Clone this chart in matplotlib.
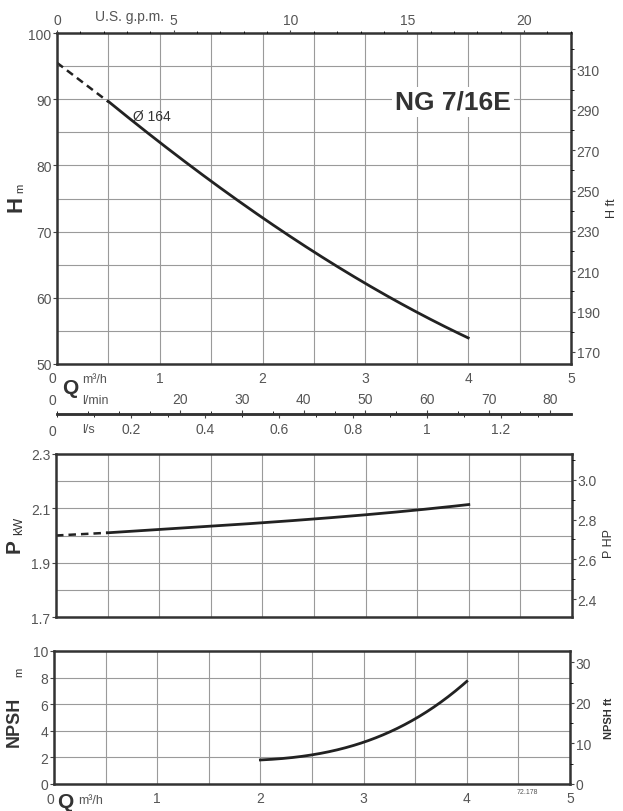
import matplotlib
matplotlib.use("Agg")
import matplotlib.pyplot as plt
import numpy as np
from matplotlib.ticker import MultipleLocator, FixedLocator

plt.rcParams['font.family'] = ['Liberation Sans', 'DejaVu Sans']

# ---- data ----
q_h_dash = [0.0, 0.5]
h_dash = [95.5, 89.6]
q_h = [0.5, 1.0, 1.5, 2.0, 2.5, 3.0, 3.5, 4.0]
h_m = [89.6, 83.6, 77.6, 72.0, 66.9, 62.2, 57.9, 53.9]

q_p_dash = [0.0, 0.5]
p_dash = [2.0, 2.01]
q_p = [0.5, 1.0, 1.5, 2.0, 2.5, 3.0, 3.5, 4.0]
p_kw = [2.010, 2.022, 2.034, 2.047, 2.061, 2.076, 2.094, 2.114]

q_n = [2.0, 2.25, 2.5, 2.75, 3.0, 3.25, 3.5, 3.75, 4.0]
npsh_m = [1.8, 1.95, 2.2, 2.6, 3.1, 3.9, 4.9, 6.2, 7.7]

q_ticks = [0, 1, 2, 3, 4, 5]
q_labels = ['', '1', '2', '3', '4', '5']
lmin_major = [20, 30, 40, 50, 60, 70, 80]
ls_major = [0.2, 0.4, 0.6, 0.8, 1.0, 1.2]
ls_labels = ['0.2', '0.4', '0.6', '0.8', '1', '1.2']

title = "NG 7/16E"
impeller = "Ø 164"

M_TO_FT = 3.2808
KW_TO_HP = 1.36
M3H_TO_GPM = 4.403
M3H_TO_LMIN = 16.667
M3H_TO_LS = 0.27778

TXT = '#555555'
DARK = '#333333'
LINE = '#222222'
GRID = '#9a9a9a'

W, H = 623, 812
fig = plt.figure(figsize=(W / 100, H / 100), dpi=100)


def fx(px):
    return px / W


def fy(py):
    return 1 - py / H


left = fx(57)
width = fx(571) - fx(57)


def style(ax):
    for s in ax.spines.values():
        s.set_linewidth(1.8)
        s.set_color(DARK)
    ax.tick_params(colors='#444444', labelcolor=TXT, labelsize=10, length=3, width=0.8)
    ax.grid(True, which='both', color=GRID, linewidth=0.8)
    ax.set_axisbelow(True)


def right_style(ax):
    ax.tick_params(colors='#444444', labelcolor=TXT, labelsize=10, length=3, width=0.8, pad=1)
    ax.tick_params(which='minor', length=2)
    for s in ax.spines.values():
        s.set_visible(False)


def curve(ax, x, y, **kw):
    xs = np.linspace(x[0], x[-1], 200)
    c = np.polyfit(x, y, 3)
    ax.plot(xs, np.polyval(c, xs), **kw)


# ---------- H chart ----------
ax1 = fig.add_axes([left, fy(365), width, fy(34) - fy(365)])
style(ax1)
ax1.set_xlim(0, 5)
ax1.set_ylim(50, 100)
ax1.xaxis.set_major_locator(FixedLocator(q_ticks))
ax1.xaxis.set_minor_locator(MultipleLocator(0.5))
ax1.set_xticklabels(q_labels)
ax1.yaxis.set_major_locator(MultipleLocator(10))
ax1.yaxis.set_minor_locator(MultipleLocator(5))
ax1.tick_params(axis='x', which='both', length=0, pad=5)
ax1.tick_params(axis='y', which='minor', length=0)
ax1.tick_params(axis='y', pad=1)
ax1.plot(q_h_dash, h_dash, color=LINE, lw=1.8, ls=(0, (3, 2)))
curve(ax1, q_h, h_m, color=LINE, lw=2.0)
ax1.text(0.74, 87.5, impeller, fontsize=10, color=DARK, va='center')
ax1.text(3.85, 89.6, title, fontsize=19, fontweight='bold', color=DARK,
         ha='center', va='center',
         bbox=dict(facecolor='white', edgecolor='none', pad=2))

ax1r = ax1.twinx()
ax1r.set_ylim(50 * M_TO_FT, 100 * M_TO_FT)
ax1r.yaxis.set_major_locator(FixedLocator(list(range(170, 330, 20))))
ax1r.yaxis.set_minor_locator(MultipleLocator(10))
right_style(ax1r)

ax1t = ax1.twiny()
ax1t.set_xlim(0, 5 * M3H_TO_GPM)
ax1t.xaxis.set_major_locator(MultipleLocator(5))
ax1t.xaxis.set_minor_locator(MultipleLocator(1))
ax1t.tick_params(colors='#444444', labelcolor=TXT, labelsize=10, length=2, width=0.8, pad=2)
ax1t.tick_params(which='minor', length=1.5)
for s in ax1t.spines.values():
    s.set_visible(False)
fig.text(fx(95), fy(17), "U.S. g.p.m.", fontsize=10, color=TXT, va='center')

fig.text(fx(16), fy(204), "H", fontsize=16, fontweight='bold', rotation=90,
         color=DARK, ha='center', va='center')
fig.text(fx(20), fy(188), "m", fontsize=8, rotation=90, color=DARK,
         ha='center', va='center')
fig.text(fx(612), fy(208), "H ft", fontsize=9, rotation=90, color=DARK,
         ha='center', va='center')

fig.text(fx(52), fy(379), "0", fontsize=10, color=TXT, ha='center', va='center')
fig.text(fx(70), fy(389), "Q", fontsize=15, fontweight='bold', color=DARK,
         ha='center', va='center')
fig.text(fx(82), fy(380), "m³/h", fontsize=9, color=TXT, ha='left', va='center')

# ---------- flow scale line ----------
axq = fig.add_axes([left, fy(415), width, 0.0001])
axq.set_xlim(0, 5)
axq.set_ylim(0, 1)
axq.patch.set_visible(False)
axq.set_xticks([])
axq.set_yticks([])
for k in ('left', 'right'):
    axq.spines[k].set_visible(False)
for k in ('top', 'bottom'):
    axq.spines[k].set_linewidth(1.8)
    axq.spines[k].set_color(DARK)
secq_top = axq.secondary_xaxis('top', functions=(lambda x: x * M3H_TO_LMIN,
                                                 lambda x: x / M3H_TO_LMIN))
secq_top.set_xticks(lmin_major)
secq_top.set_xticklabels([str(v) for v in lmin_major])
secq_top.xaxis.set_minor_locator(MultipleLocator(5))
secq_top.tick_params(colors='#444444', labelcolor=TXT, labelsize=10, length=3, width=0.8, pad=3)
secq_top.tick_params(which='minor', length=2)
secq_top.spines['top'].set_visible(False)
secq_bot = axq.secondary_xaxis('bottom', functions=(lambda x: x * M3H_TO_LS,
                                                    lambda x: x / M3H_TO_LS))
secq_bot.set_xticks(ls_major)
secq_bot.set_xticklabels(ls_labels)
secq_bot.xaxis.set_minor_locator(MultipleLocator(0.1))
secq_bot.tick_params(colors='#444444', labelcolor=TXT, labelsize=10, length=3, width=0.8, pad=3)
secq_bot.tick_params(which='minor', length=2)
secq_bot.spines['bottom'].set_visible(False)
fig.text(fx(52), fy(401), "0", fontsize=10, color=TXT, ha='center', va='center')
fig.text(fx(82), fy(401), "l/min", fontsize=9, color=TXT, ha='left', va='center')
fig.text(fx(52), fy(432), "0", fontsize=10, color=TXT, ha='center', va='center')
fig.text(fx(82), fy(430), "l/s", fontsize=9, color=TXT, ha='left', va='center')

# ---------- P chart ----------
ax2 = fig.add_axes([fx(56), fy(618), fx(572) - fx(56), fy(455) - fy(618)])
style(ax2)
ax2.set_xlim(0, 5)
ax2.set_ylim(1.7, 2.3)
ax2.xaxis.set_major_locator(MultipleLocator(0.5))
ax2.yaxis.set_major_locator(FixedLocator([1.7, 1.9, 2.1, 2.3]))
ax2.yaxis.set_minor_locator(MultipleLocator(0.1))
ax2.set_yticklabels(['1.7', '1.9', '2.1', '2.3'])
ax2.tick_params(axis='x', which='both', length=0, labelbottom=False)
ax2.tick_params(axis='y', which='minor', length=0)
ax2.tick_params(axis='y', pad=1)
ax2.plot(q_p_dash, p_dash, color=LINE, lw=1.8, ls=(0, (3, 2)))
curve(ax2, q_p, p_kw, color=LINE, lw=2.0)

ax2r = ax2.twinx()
ax2r.set_ylim(1.7 * KW_TO_HP, 2.3 * KW_TO_HP)
ax2r.yaxis.set_major_locator(FixedLocator([2.4, 2.6, 2.8, 3.0]))
ax2r.yaxis.set_minor_locator(MultipleLocator(0.1))
ax2r.set_yticklabels(['2.4', '2.6', '2.8', '3.0'])
right_style(ax2r)

fig.text(fx(14), fy(546), "P", fontsize=15, fontweight='bold', rotation=90,
         color=DARK, ha='center', va='center')
fig.text(fx(19), fy(526), "kW", fontsize=9, rotation=90, color=DARK,
         ha='center', va='center')
fig.text(fx(609), fy(543), "P HP", fontsize=9, rotation=90, color=DARK,
         ha='center', va='center')

# ---------- NPSH chart ----------
ax3 = fig.add_axes([fx(54), fy(785), fx(570) - fx(54), fy(652) - fy(785)])
style(ax3)
ax3.set_xlim(0, 5)
ax3.set_ylim(0, 10)
ax3.xaxis.set_major_locator(FixedLocator(q_ticks))
ax3.xaxis.set_minor_locator(MultipleLocator(0.5))
ax3.set_xticklabels(q_labels)
ax3.yaxis.set_major_locator(MultipleLocator(2))
ax3.tick_params(axis='x', which='both', length=0, pad=5)
ax3.tick_params(axis='y', pad=1)
curve(ax3, q_n, npsh_m, color=LINE, lw=2.0)

ax3r = ax3.twinx()
ax3r.set_ylim(0, 10 * M_TO_FT)
ax3r.yaxis.set_major_locator(MultipleLocator(10))
ax3r.yaxis.set_minor_locator(MultipleLocator(5))
right_style(ax3r)

fig.text(fx(14), fy(722), "NPSH", fontsize=13, fontweight='bold', rotation=90,
         color=DARK, ha='center', va='center')
fig.text(fx(19), fy(672), "m", fontsize=8, rotation=90, color=DARK,
         ha='center', va='center')
fig.text(fx(609), fy(718), "NPSH ft", fontsize=8, fontweight='bold', rotation=90,
         color=DARK, ha='center', va='center')

fig.text(fx(50), fy(800), "0", fontsize=10, color=TXT, ha='center', va='center')
fig.text(fx(65), fy(803), "Q", fontsize=15, fontweight='bold', color=DARK,
         ha='center', va='center')
fig.text(fx(78), fy(801), "m³/h", fontsize=9, color=TXT, ha='left', va='center')
fig.text(fx(527), fy(793), "72.178", fontsize=5, color=TXT, ha='center', va='center')

fig.savefig("out.png", dpi=100)
